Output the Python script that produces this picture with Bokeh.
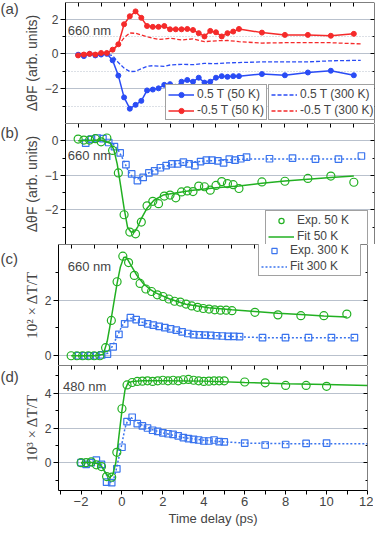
from bokeh.plotting import figure
from bokeh.layouts import column, row
from bokeh.models import (Range1d, LinearAxis, FixedTicker, Legend, LegendItem, Label,
                          CustomJSTickFormatter)
from bokeh.embed import file_html
from bokeh.resources import INLINE

# ---------------- data ----------------
t50 = [-2, -1.75, -1.5, -1.25, -1.0, -0.75, -0.5, -0.25, 0, 0.25, 0.5, 0.75, 1.0, 1.25, 1.5,
       1.75, 2.0, 2.25, 2.5, 2.75, 3.0, 3.25, 3.5, 3.75, 4.0, 4.25, 4.5, 4.75, 5.0, 6, 7, 8, 9, 10]
t300 = [-1.67, -1.42, -1.17, -0.92, -0.67, -0.42, -0.17, 0.08, 0.33, 0.58, 0.83, 1.08, 1.33, 1.58,
        1.83, 2.08, 2.33, 2.58, 2.83, 3.08, 3.33, 3.58, 3.83, 4.08, 4.33, 4.58, 4.83, 5.08, 5.33,
        6.33, 7.33, 8.33, 9.33, 10.33]

# (a) Faraday rotation, 50 K with markers
a_pos50 = [-0.05, -0.13, 0.0, -0.09, -0.04, 0.0, -0.37, -1.25, -2.5, -3.15, -2.93, -2.7, -2.1, -2.05,
           -1.98, -1.78, -1.74, -1.89, -1.6, -1.5, -1.6, -1.37, -1.65, -1.6, -1.37, -1.28, -1.32,
           -1.28, -1.28, -1.16, -1.23, -1.07, -0.97, -1.23]
a_neg50 = [-0.09, -0.04, 0.0, -0.04, 0.05, 0.05, 0.24, 0.55, 1.7, 2.16, 2.44, 2.07, 1.6, 1.55, 1.55,
           1.6, 1.41, 1.41, 1.41, 1.43, 1.37, 1.19, 1.0, 1.32, 1.24, 1.0, 1.19, 1.28, 1.43, 1.22,
           1.09, 1.09, 1.04, 1.15]
# (a) 300 K dashed
t_a300 = [-2, -1.5, -1, -0.75, -0.5, -0.25, 0, 0.25, 0.5, 0.75, 1, 1.25, 1.5, 1.75, 2, 2.5, 3, 3.5,
          4, 4.5, 5, 6, 7, 8, 9, 10.3]
a_pos300 = [0.0, 0.0, 0.0, -0.02, -0.1, -0.5, -0.82, -1.02, -1.0, -0.85, -0.72, -0.68, -0.7, -0.72,
            -0.64, -0.6, -0.62, -0.55, -0.56, -0.52, -0.5, -0.46, -0.46, -0.46, -0.4, -0.37]
a_neg300 = [0.02, 0.03, 0.03, 0.05, 0.2, 0.5, 0.92, 1.2, 1.18, 1.08, 0.98, 0.9, 0.83, 0.85, 0.9, 0.8,
            0.86, 0.7, 0.75, 0.77, 0.7, 0.62, 0.64, 0.64, 0.64, 0.57]

# (b) Faraday rotation, 0.5 T
b_exp50 = [0.05, 0.02, 0.02, 0.06, -0.03, 0.08, -0.28, -0.93, -2.14, -2.64, -2.69, -2.35, -1.88, -1.75,
           -1.82, -1.6, -1.57, -1.65, -1.48, -1.45, -1.47, -1.31, -1.33, -1.43, -1.29, -1.18, -1.24,
           -1.27, -1.38, -1.19, -1.17, -1.09, -1.02, -1.2]
b_fit50_t = [-2, -1, -0.6, -0.45, -0.3, -0.15, 0, 0.15, 0.3, 0.45, 0.6, 0.75, 1.0, 1.3, 1.7, 2.3, 3.0,
             4.0, 5.0, 6.0, 7.0, 8.0, 9.0, 10.0]
b_fit50 = [0.0, 0.02, -0.07, -0.25, -0.67, -1.3, -1.95, -2.5, -2.64, -2.64, -2.48, -2.25, -1.95, -1.72,
           -1.57, -1.5, -1.43, -1.36, -1.31, -1.23, -1.16, -1.11, -1.06, -1.02]
b_exp300 = [-0.07, 0.05, 0.08, 0.06, -0.05, -0.17, -0.35, -0.69, -0.96, -1.15, -1.06, -0.93, -0.87,
            -0.78, -0.72, -0.67, -0.67, -0.62, -0.67, -0.72, -0.6, -0.56, -0.56, -0.58, -0.64, -0.53,
            -0.56, -0.52, -0.47, -0.52, -0.5, -0.53, -0.53, -0.44]
b_fit300_t = [-1.67, -1.0, -0.5, -0.25, 0.0, 0.2, 0.4, 0.6, 0.8, 1.0, 1.5, 2.0, 2.5, 3.0, 4.0, 5.33,
              6.33, 7.33, 8.33, 9.33, 10.33]
b_fit300 = [0.0, 0.02, -0.08, -0.27, -0.6, -0.9, -1.07, -1.1, -1.03, -0.95, -0.8, -0.7, -0.64, -0.61,
            -0.57, -0.53, -0.53, -0.53, -0.53, -0.53, -0.53]

# (c) transmission 660 nm
c_exp50 = [0, 0, 0, 0, 0, 0.0, 0.29, 1.27, 2.66, 3.58, 3.35, 2.89, 2.6, 2.4, 2.31, 2.19, 2.13, 2.04,
           1.96, 1.93, 1.86, 1.79, 1.74, 1.7, 1.68, 1.65, 1.64, 1.64, 1.62, 1.56, 1.47, 1.44, 1.44, 1.5]
c_fit50_t = [-2, -1, -0.6, -0.43, -0.29, -0.14, 0, 0.14, 0.29, 0.4, 0.57, 0.86, 1.14, 1.43, 1.71, 2.29,
             3.0, 4.0, 5.0, 6.0, 7.0, 8.0, 9.0, 10.0]
c_fit50 = [0, 0, 0.05, 0.52, 1.16, 1.91, 2.6, 3.18, 3.53, 3.55, 3.3, 2.89, 2.6, 2.39, 2.25, 2.04, 1.85,
           1.73, 1.65, 1.59, 1.53, 1.48, 1.43, 1.39]
c_exp300 = [0, 0, 0, 0, 0.03, 0.06, 0.32, 0.77, 1.15, 1.37, 1.3, 1.21, 1.15, 1.1, 1.06, 1.01, 0.97, 0.92,
            0.86, 0.8, 0.76, 0.75, 0.74, 0.73, 0.72, 0.71, 0.7, 0.7, 0.69, 0.65, 0.65, 0.65, 0.65, 0.65]
c_fit300_t = [-1.67, -1.0, -0.6, -0.4, -0.2, 0.0, 0.2, 0.4, 0.6, 1.0, 1.5, 2.0, 2.5, 3.0, 4.0, 5.33,
              6.33, 7.33, 8.33, 9.33, 10.33]
c_fit300 = [0, 0, 0.02, 0.1, 0.35, 0.7, 1.05, 1.3, 1.35, 1.23, 1.1, 1.0, 0.9, 0.8, 0.73, 0.68, 0.65,
            0.65, 0.65, 0.65, 0.65]

# (d) transmission 480 nm
d_exp50 = [0.0, 0.0, 0.05, -0.12, -0.22, -0.8, -0.83, 0.6, 3.11, 4.48, 4.62, 4.68, 4.7, 4.72, 4.68, 4.72,
           4.75, 4.72, 4.75, 4.72, 4.78, 4.8, 4.75, 4.72, 4.68, 4.7, 4.72, 4.72, 4.72, 4.65, 4.6, 4.45,
           4.45, 4.4]
d_fit50_t = [-2, -1.5, -1.2, -1.0, -0.8, -0.6, -0.45, -0.3, -0.15, 0, 0.15, 0.3, 0.5, 1, 2, 4, 6, 8, 10, 12]
d_fit50 = [0, 0.02, -0.05, -0.2, -0.6, -0.85, -0.7, 0.0, 1.5, 3.0, 4.2, 4.6, 4.68, 4.72, 4.72, 4.7,
           4.62, 4.55, 4.5, 4.45]
d_exp300 = [0.0, -0.1, 0.0, 0.15, -0.1, -1.12, -1.15, -0.35, 0.89, 2.37, 2.62, 2.25, 2.12, 2.0, 1.87,
            1.8, 1.72, 1.67, 1.63, 1.55, 1.45, 1.39, 1.35, 1.31, 1.25, 1.25, 1.31, 1.22, 1.2, 1.13, 1.02,
            1.05, 1.11, 1.13]
d_fit300_t = [-2, -1.2, -1.0, -0.8, -0.6, -0.45, -0.3, -0.15, 0, 0.15, 0.3, 0.45, 0.7, 1.0, 1.5, 2.0,
              3.0, 4.0, 5.0, 6, 8, 10, 12]
d_fit300 = [0, 0.02, -0.1, -0.6, -1.1, -1.15, -0.5, 0.3, 1.1, 2.0, 2.5, 2.6, 2.35, 2.15, 1.9, 1.72, 1.45,
            1.3, 1.2, 1.13, 1.1, 1.1, 1.1]

abc_ticks = [-2, -1, 0, 1, 2, 3, 4, 5, 6, 7, 8, 9, 10]
d_major = [-2, 0, 2, 4, 6, 8, 10, 12]
d_minor = [-3, -1, 1, 3, 5, 7, 9, 11]

# ---------------- style ----------------
SANS = "Liberation Sans"
SERIF = "Liberation Serif"
GRID = "#b9c1cd"
BLUE = "#2a4cf5"
RED = "#f52a2a"
GREEN = "#22b022"
LBLUE = "#3a74ee"
FW = 309
TAGW = 20
XR_ABC = (-2.55, 10.9)
XR_D = (-3.1, 12.0)
FA, FB, FC, FD = 121, 121, 121, 125


def hidden_axis(ticker, loc, **kw):
    return LinearAxis(ticker=ticker, fixed_location=loc, major_tick_in=4, major_tick_out=0,
                      minor_tick_in=2, minor_tick_out=0, major_label_text_font_size="0px",
                      major_label_standoff=0, formatter=CustomJSTickFormatter(code="return ''"),
                      axis_line_color="black", major_tick_line_color="black",
                      minor_tick_line_color="black", **kw)


def make_panel(frame_h, xr, yr, ymaj, ymin, gmaj, gmin, ylabel, ylabel_font,
               border_top=0, border_bottom=0, d_panel=False):
    p = figure(frame_width=FW, frame_height=frame_h, x_range=Range1d(*xr), y_range=Range1d(*yr),
               output_backend="svg", toolbar_location=None, x_axis_location=None,
               y_axis_location="left", min_border_left=38, min_border_right=6,
               min_border_top=border_top, min_border_bottom=border_bottom)
    p.outline_line_color = None
    p.xgrid.visible = False
    p.ygrid.ticker = FixedTicker(ticks=gmaj, minor_ticks=gmin)
    p.ygrid.grid_line_color = GRID
    p.ygrid.grid_line_width = 1
    if gmin:
        p.ygrid.minor_grid_line_color = GRID
        p.ygrid.minor_grid_line_dash = "1 2"

    yax = p.yaxis[0]
    yax.ticker = FixedTicker(ticks=ymaj, minor_ticks=ymin)
    yax.axis_label = ylabel
    yax.axis_label_text_font = ylabel_font
    yax.axis_label_text_font_size = "14px" if ylabel_font == SANS else "15px"
    yax.axis_label_text_font_style = "normal"
    yax.axis_label_standoff = 2
    yax.major_label_text_font = SANS
    yax.major_label_text_font_size = "12px"
    yax.major_label_standoff = 2
    yax.major_tick_out = 5
    yax.major_tick_in = 0
    yax.minor_tick_out = 3
    yax.minor_tick_in = 0
    yax.axis_line_color = "black"
    yax.major_tick_line_color = "black"
    yax.minor_tick_line_color = "black"

    p.add_layout(hidden_axis(FixedTicker(ticks=ymaj, minor_ticks=ymin), xr[1]), "right")
    if d_panel:
        p.extra_x_ranges = {"abc": Range1d(*XR_ABC)}
        p.add_layout(hidden_axis(FixedTicker(ticks=abc_ticks, minor_ticks=[]), yr[1],
                                 x_range_name="abc"), "above")
        bax = LinearAxis(ticker=FixedTicker(ticks=d_major, minor_ticks=d_minor))
        bax.major_tick_out = 4
        bax.major_tick_in = 0
        bax.minor_tick_out = 4
        bax.minor_tick_in = 0
        bax.major_label_text_font = SANS
        bax.major_label_text_font_size = "13px"
        bax.major_label_standoff = 2
        bax.axis_label = "Time delay (ps)"
        bax.axis_label_text_font = SANS
        bax.axis_label_text_font_size = "13px"
        bax.axis_label_text_font_style = "normal"
        bax.axis_label_standoff = 2
        bax.axis_line_color = "black"
        bax.major_tick_line_color = "black"
        bax.minor_tick_line_color = "black"
        p.add_layout(bax, "below")
    else:
        p.add_layout(hidden_axis(FixedTicker(ticks=abc_ticks, minor_ticks=[]), yr[1]), "above")
    return p


def tag_fig(height, text, from_top):
    f = figure(width=TAGW, height=height, x_range=Range1d(0, 1), y_range=Range1d(0, height),
               output_backend="svg", toolbar_location=None, x_axis_location=None,
               y_axis_location=None, min_border=0)
    f.outline_line_color = None
    f.grid.visible = False
    f.add_layout(Label(x=0, y=height - from_top, text=text, text_font=SANS, text_font_size="15px",
                       text_baseline="middle", text_align="left"))
    return f


def note(p, x, y, text):
    p.add_layout(Label(x=x, y=y, text=text, text_font=SANS, text_font_size="13px",
                       text_baseline="middle", text_align="left"))


def legend(items, loc, label_width=None):
    kw = dict(items=items, location=loc, border_line_color="#444444", border_line_width=1,
              background_fill_color="white", background_fill_alpha=1.0,
              label_text_font=SANS, label_text_font_size="12px", glyph_width=26,
              glyph_height=13, label_height=13, spacing=2, padding=2, margin=0, label_standoff=3)
    if label_width:
        kw["label_width"] = label_width
    return Legend(**kw)


# ---------------- panel (a) ----------------
pa = make_panel(FA, XR_ABC, (-4, 2.95), [-2, 0, 2], [-3, -1, 1], [-2, 0, 2], [-3, -1, 1],
                "ΔθF (arb. units)", SANS, border_top=2)
rp3 = pa.line(t_a300, a_pos300, color=BLUE, line_width=1.3, line_dash="4 2")
rn3 = pa.line(t_a300, a_neg300, color=RED, line_width=1.3, line_dash="4 2")
rpl = pa.line(t50, a_pos50, color=BLUE, line_width=1.5)
rps = pa.scatter(t50, a_pos50, color=BLUE, size=5)
rnl = pa.line(t50, a_neg50, color=RED, line_width=1.5)
rns = pa.scatter(t50, a_neg50, color=RED, size=5)
note(pa, -2.45, 1.33, "660 nm")
pa.add_layout(legend([LegendItem(label="0.5 T (50 K)", renderers=[rpl, rps]),
                      LegendItem(label="-0.5 T (50 K)", renderers=[rnl, rns])], (100, 3)))
pa.add_layout(legend([LegendItem(label="0.5 T (300 K)", renderers=[rp3]),
                      LegendItem(label="-0.5 T (300 K)", renderers=[rn3])], (203, 3)))

# ---------------- panel (b) ----------------
pb = make_panel(FB, XR_ABC, (-3.0, 0.5), [-2, -1, 0], [-2.5, -1.5, -0.5], [-2, -1, 0], [],
                "ΔθF (arb. units)", SANS)
rbf3 = pb.line(b_fit300_t, b_fit300, color=LBLUE, line_width=1.5, line_dash="2 2")
rbe3 = pb.scatter(t300, b_exp300, marker="square", size=6.5, line_color=LBLUE, fill_color=None, line_width=1.2)
rbf5 = pb.line(b_fit50_t, b_fit50, color=GREEN, line_width=1.5)
rbe5 = pb.scatter(t50, b_exp50, marker="circle", size=8, line_color=GREEN, fill_color=None, line_width=1.2)
note(pb, -2.45, -0.44, "660 nm")
pb.add_layout(legend([LegendItem(label="Exp. 50 K", renderers=[rbe5]),
                      LegendItem(label="Fit 50 K", renderers=[rbf5])], (200, -2), label_width=68))

# ---------------- panel (c) ----------------
pc = make_panel(FC, XR_ABC, (-0.35, 4.0), [0, 2], [1, 3], [0, 2], [],
                "10² × ΔT/T", SERIF)
rcf3 = pc.line(c_fit300_t, c_fit300, color=LBLUE, line_width=1.5, line_dash="2 2")
rce3 = pc.scatter(t300, c_exp300, marker="square", size=6.5, line_color=LBLUE, fill_color=None, line_width=1.2)
rcf5 = pc.line(c_fit50_t, c_fit50, color=GREEN, line_width=1.5)
rce5 = pc.scatter(t50, c_exp50, marker="circle", size=8, line_color=GREEN, fill_color=None, line_width=1.2)
note(pc, -2.15, 3.2, "660 nm")
pc.add_layout(legend([LegendItem(label="Exp. 300 K", renderers=[rce3]),
                      LegendItem(label="Fit 300 K", renderers=[rcf3])], (200, FC - 32), label_width=68))

# ---------------- panel (d) ----------------
pd_ = make_panel(FD, XR_D, (-1.6, 5.6), [0, 2, 4], [-1, 1, 3, 5], [0, 2, 4], [],
                 "10³ × ΔT/T", SERIF, border_bottom=38, d_panel=True)
rdf3 = pd_.line(d_fit300_t, d_fit300, color=LBLUE, line_width=1.5, line_dash="2 2")
rde3 = pd_.scatter(t50, d_exp300, marker="square", size=6.5, line_color=LBLUE, fill_color=None, line_width=1.2)
rdf5 = pd_.line(d_fit50_t, d_fit50, color=GREEN, line_width=1.5)
rde5 = pd_.scatter(t50, d_exp50, marker="circle", size=8, line_color=GREEN, fill_color=None, line_width=1.2)
note(pd_, -2.88, 4.4, "480 nm")

layout = column(
    row(tag_fig(FA + 2, "(a)", 6), pa, spacing=0),
    row(tag_fig(FB, "(b)", 9), pb, spacing=0),
    row(tag_fig(FC, "(c)", 14), pc, spacing=0),
    row(tag_fig(FD + 38, "(d)", 14), pd_, spacing=0),
    spacing=0,
)
open("out.html", "w").write(file_html(layout, INLINE))
